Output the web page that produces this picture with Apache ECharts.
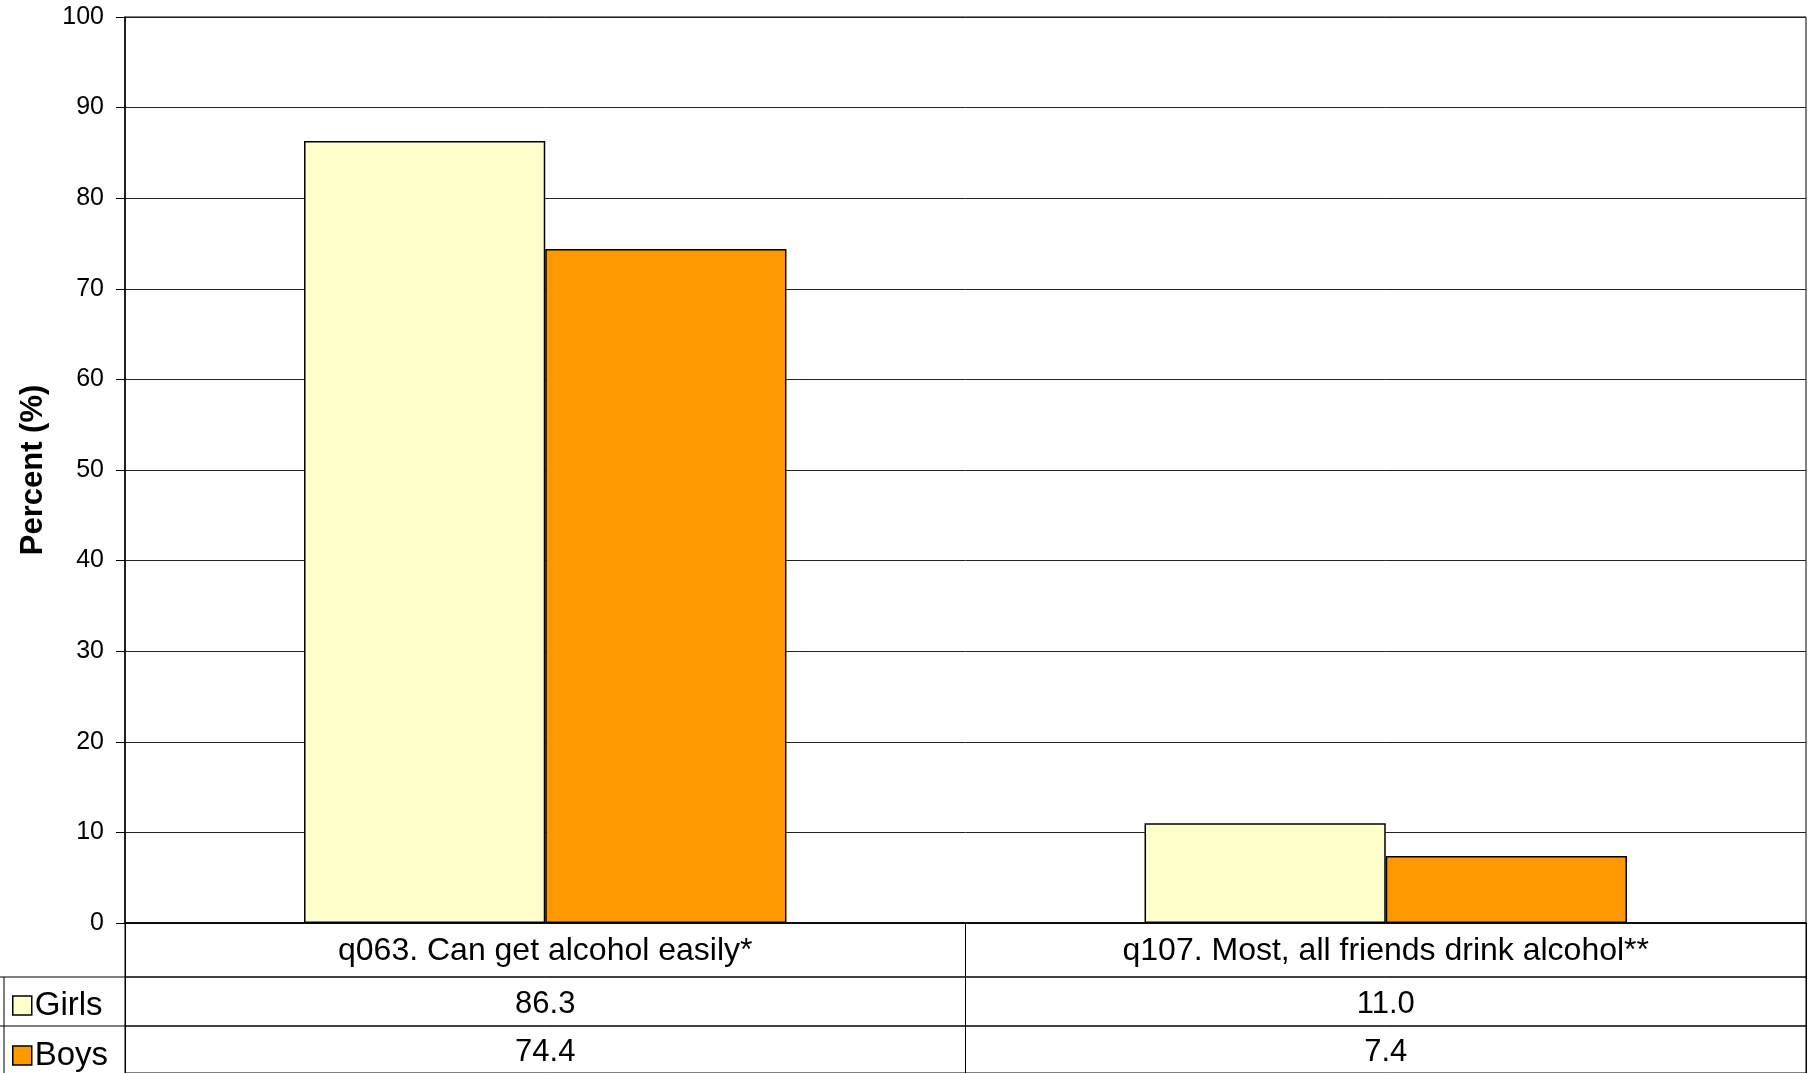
<!DOCTYPE html>
<html>
<head>
<meta charset="utf-8">
<script src="https://cdn.jsdelivr.net/npm/echarts@6/dist/echarts.min.js"></script>
<style>
html,body{margin:0;padding:0;background:#fff;}
#chart{width:1813px;height:1073px;}
</style>
</head>
<body>
<div id="chart"></div>
<script>
const categories = ['q063. Can get alcohol easily*', 'q107. Most, all friends drink alcohol**'];
const girls = [86.3, 11.0];
const boys = [74.4, 7.4];
const seriesNames = ['Girls', 'Boys'];
const yTicks = [0, 10, 20, 30, 40, 50, 60, 70, 80, 90, 100];

const FONT = 'Liberation Sans, Arial, sans-serif';
const L = 125, R = 7, TOP = 17, ZERO = 923;
const ROW0 = 54, ROW1 = 49, ROW2 = 49;

const chart = echarts.init(document.getElementById('chart'));

function tableGrid(top, h) {
  return { left: L, right: R, top: top, height: h, show: true, borderColor: '#000', borderWidth: 1, backgroundColor: 'transparent' };
}
function tableX(gridIndex, h, size, shift, fmt) {
  return {
    type: 'category', gridIndex: gridIndex, data: categories, position: 'bottom',
    axisLine: { show: false }, axisTick: { show: false },
    splitLine: { show: true, lineStyle: { color: '#000', width: 1 } },
    axisLabel: { margin: -h / 2 + shift, verticalAlign: 'middle', fontFamily: FONT, fontSize: size, color: '#000', formatter: fmt }
  };
}
function legendRow(name, top) {
  return {
    data: [name], orient: 'vertical', left: 12, top: top, padding: 0,
    itemWidth: 19, itemHeight: 19, icon: 'rect',
    itemStyle: { borderColor: '#000', borderWidth: 1.5 },
    textStyle: { fontFamily: FONT, fontSize: 33, color: '#000', lineHeight: 34, padding: [3, 0, 0, -2] }
  };
}

const option = {
  animation: false,
  backgroundColor: '#fff',
  grid: [
    { left: L, right: R, top: TOP, height: ZERO - TOP, show: true, borderColor: '#000', borderWidth: 1 },
    tableGrid(ZERO, ROW0),
    tableGrid(ZERO + ROW0, ROW1),
    tableGrid(ZERO + ROW0 + ROW1, ROW2)
  ],
  legend: [
    legendRow(seriesNames[0], ZERO + ROW0 + 10),
    legendRow(seriesNames[1], ZERO + ROW0 + ROW1 + 11)
  ],
  xAxis: [
    { type: 'category', gridIndex: 0, data: categories,
      axisLine: { show: true, lineStyle: { color: '#000', width: 1.5 } },
      axisTick: { show: false }, axisLabel: { show: false } },
    tableX(1, ROW0, 32, 1, (v) => v),
    tableX(2, ROW1, 31, 3, (v, i) => girls[i].toFixed(1)),
    tableX(3, ROW2, 31, 4, (v, i) => boys[i].toFixed(1))
  ],
  yAxis: [
    { type: 'value', gridIndex: 0, min: yTicks[0], max: yTicks[yTicks.length - 1], interval: 10,
      name: 'Percent (%)', nameLocation: 'middle', nameGap: 76,
      nameTextStyle: { fontFamily: FONT, fontSize: 31, fontWeight: 'bold', color: '#000' },
      axisLine: { show: true, lineStyle: { color: '#000', width: 1.5 } },
      axisTick: { show: true, length: 9, lineStyle: { color: '#000' } },
      axisLabel: { fontFamily: FONT, fontSize: 25, color: '#000', margin: 21 },
      splitLine: { show: true, lineStyle: { color: '#222', width: 1 } } },
    { type: 'value', gridIndex: 1, show: false },
    { type: 'value', gridIndex: 2, show: false },
    { type: 'value', gridIndex: 3, show: false }
  ],
  series: [
    { name: seriesNames[0], type: 'bar', xAxisIndex: 0, yAxisIndex: 0, data: girls,
      barGap: '0%', barCategoryGap: '42.6%',
      itemStyle: { color: '#FFFFCC', borderColor: '#000', borderWidth: 1.5 } },
    { name: seriesNames[1], type: 'bar', xAxisIndex: 0, yAxisIndex: 0, data: boys,
      barGap: '0%', barCategoryGap: '42.6%',
      itemStyle: { color: '#FF9900', borderColor: '#000', borderWidth: 1.5 } }
  ],
  graphic: [
    { type: 'line', shape: { x1: 0, y1: ZERO + ROW0, x2: L, y2: ZERO + ROW0 }, style: { stroke: '#000', lineWidth: 1 } },
    { type: 'line', shape: { x1: 0, y1: ZERO + ROW0 + ROW1, x2: L, y2: ZERO + ROW0 + ROW1 }, style: { stroke: '#000', lineWidth: 1 } },
    { type: 'line', shape: { x1: 4, y1: ZERO + ROW0, x2: 4, y2: 1073 }, style: { stroke: '#000', lineWidth: 1 } }
  ]
};
chart.setOption(option);
</script>
</body>
</html>
